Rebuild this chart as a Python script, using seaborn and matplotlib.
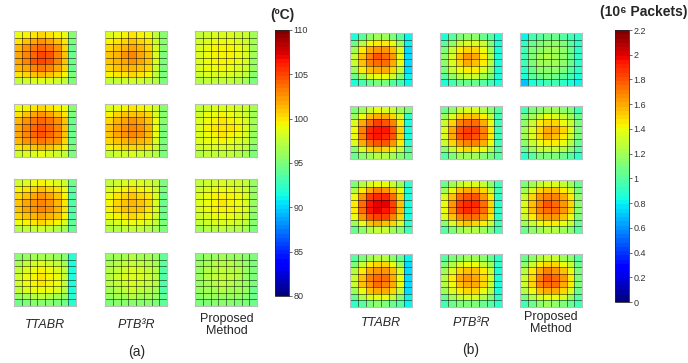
import numpy as np
import matplotlib
matplotlib.use("Agg")
import matplotlib.pyplot as plt
import matplotlib.colors as mcolors
import seaborn as sns

sns.set_theme(style="white")
plt.rcParams["font.family"] = ["Liberation Sans", "DejaVu Sans"]

W, H = 688, 363

# ---- panel (a): temperature (deg C), 8x8 grids, rows top -> bottom ----
a_ttabr_1 = [[99, 99.5, 100, 100.5, 100, 99.5, 99, 95.5],
             [100, 101, 102, 102.5, 102, 101, 100, 95],
             [101.5, 102.5, 103.5, 104, 103.5, 102.5, 100.5, 94.5],
             [102, 103, 104, 105, 104.5, 103, 101, 94.5],
             [102, 103, 104.5, 105, 104.5, 103, 101, 94.5],
             [101.5, 102, 103, 103.5, 103, 102, 100.5, 94.5],
             [100, 100.5, 101, 101.5, 101, 100.5, 99.5, 95],
             [97.5, 98, 98.5, 98.5, 98.5, 98, 97.5, 95]]
a_ptb_1 = [[98.5, 99, 99.5, 100, 99.5, 99, 97.5, 95.5],
           [99.5, 100, 100.5, 101, 100.5, 100, 98, 95.5],
           [100.5, 101, 101.5, 102, 101.5, 100.5, 98.5, 95.5],
           [101, 101.5, 102.5, 103, 102, 101, 98.5, 95],
           [101, 101.5, 102, 102.5, 102, 101, 98.5, 95],
           [100.5, 101, 101.5, 101.5, 101, 100.5, 98, 95],
           [99.5, 100, 100, 100.5, 100, 99.5, 97.5, 95],
           [97.5, 97.5, 98, 98, 98, 97.5, 97, 95]]
a_prop_1 = [[97.5, 98, 98.5, 98.5, 98.5, 98, 98, 96.5],
            [98, 98.5, 99, 99, 99, 98.5, 98, 96.5],
            [98.5, 99, 99.5, 99.5, 99.5, 99, 98.5, 96.5],
            [98.5, 99, 99.5, 99.5, 99.5, 99, 98.5, 96.5],
            [98.5, 99, 99.5, 99.5, 99.5, 99, 98.5, 96],
            [98.5, 99, 99, 99.5, 99, 98.5, 98, 96],
            [98, 98.5, 98.5, 98.5, 98.5, 98, 97.5, 95.5],
            [97, 97.5, 97.5, 97.5, 97.5, 97, 96.5, 95]]

a_ttabr_2 = [[99, 99.5, 100, 100.5, 100, 99.5, 99, 95.5],
             [100, 101, 102, 102.5, 102, 101, 100, 95],
             [101.5, 102.5, 103.5, 104, 103.5, 102.5, 101, 94.5],
             [102, 103, 104, 104.5, 104, 103, 101, 94.5],
             [102, 103, 104, 104.5, 104, 103, 101, 94.5],
             [101.5, 102.5, 103, 103.5, 103, 102.5, 100.5, 94.5],
             [100, 100.5, 101, 101.5, 101, 100.5, 99.5, 95],
             [98, 98.5, 98.5, 99, 98.5, 98, 97.5, 95]]
a_ptb_2 = [[98.5, 99, 99.5, 100, 99.5, 99, 98, 95.5],
           [99.5, 100.5, 101, 101, 101, 100.5, 98.5, 95.5],
           [100.5, 101.5, 102, 102.5, 102, 101, 99, 95.5],
           [101, 102, 102.5, 103, 102.5, 101.5, 99, 95],
           [101, 102, 102.5, 103, 102.5, 101.5, 99, 95],
           [100.5, 101, 101.5, 102, 101.5, 101, 98.5, 95],
           [99.5, 100, 100.5, 100.5, 100.5, 100, 98, 95],
           [97.5, 98, 98, 98.5, 98, 97.5, 97, 95]]
a_prop_2 = [[97.5, 98, 98.5, 98.5, 98.5, 98, 98, 96.5],
            [98, 99, 99, 99.5, 99, 98.5, 98, 96.5],
            [98.5, 99, 99.5, 100, 99.5, 99, 98.5, 96.5],
            [98.5, 99.5, 100, 100, 100, 99.5, 98.5, 96.5],
            [98.5, 99, 99.5, 100, 99.5, 99, 98.5, 96],
            [98.5, 99, 99, 99.5, 99, 98.5, 98, 96],
            [98, 98.5, 98.5, 98.5, 98.5, 98, 97.5, 95.5],
            [97, 97.5, 97.5, 97.5, 97.5, 97, 96.5, 95]]

a_ttabr_3 = [[98, 98.5, 99, 99.5, 99, 98.5, 98, 94.5],
             [99.5, 100, 100.5, 101, 100.5, 100, 99, 94],
             [100.5, 101, 102, 102.5, 102, 101, 99.5, 93.5],
             [101, 102, 102.5, 103, 102.5, 101.5, 100, 93.5],
             [101, 102, 102.5, 103, 102.5, 101.5, 100, 93.5],
             [100.5, 101, 101.5, 102, 101.5, 101, 99.5, 93.5],
             [99, 99.5, 100, 100.5, 100, 99.5, 98.5, 94],
             [97, 97.5, 97.5, 98, 97.5, 97, 96.5, 94]]
a_ptb_3 = [[97.5, 98, 98.5, 98.5, 98.5, 98, 97.5, 95],
           [98.5, 99, 99.5, 100, 99.5, 99, 98, 95],
           [99, 100, 100.5, 101, 100.5, 100, 98.5, 94.5],
           [99.5, 100.5, 101, 101.5, 101, 100.5, 98.5, 94.5],
           [99.5, 100.5, 101, 101, 101, 100, 98.5, 94.5],
           [99, 99.5, 100, 100.5, 100, 99.5, 98, 94.5],
           [98, 98.5, 99, 99, 99, 98.5, 97.5, 95],
           [97, 97, 97.5, 97.5, 97.5, 97, 96.5, 95]]
a_prop_3 = [[97.5, 98, 98, 98.5, 98, 98, 97.5, 96],
            [98, 98.5, 99, 99, 99, 98.5, 98, 96],
            [98.5, 99, 99.5, 99.5, 99.5, 99, 98.5, 96],
            [98.5, 99, 99.5, 100, 99.5, 99, 98.5, 96],
            [98.5, 99, 99.5, 99.5, 99.5, 99, 98.5, 96],
            [98, 98.5, 99, 99, 99, 98.5, 98, 95.5],
            [97.5, 98, 98.5, 98.5, 98.5, 98, 97.5, 95.5],
            [96.5, 97, 97, 97.5, 97, 97, 96.5, 95]]

a_ttabr_4 = [[95.5, 96, 96.5, 96.5, 96.5, 96, 95.5, 92],
             [96.5, 97.5, 98, 98.5, 98, 97.5, 96.5, 91.5],
             [97.5, 98.5, 99, 99.5, 99, 98.5, 97.5, 91.5],
             [98, 99, 99.5, 100, 99.5, 99, 97.5, 91.5],
             [98, 99, 99.5, 100, 99.5, 99, 97.5, 91.5],
             [97.5, 98.5, 99, 99, 99, 98.5, 97, 91.5],
             [96, 96.5, 97, 97.5, 97, 96.5, 96, 92],
             [94.5, 95, 95.5, 95.5, 95.5, 95, 94.5, 92]]
a_ptb_4 = [[96, 96.5, 96.5, 97, 96.5, 96.5, 96, 94],
           [96.5, 97, 97.5, 97.5, 97.5, 97, 96.5, 94],
           [97, 97.5, 98, 98.5, 98, 97.5, 97, 93.5],
           [97, 98, 98.5, 98.5, 98.5, 98, 97, 93.5],
           [97, 97.5, 98, 98.5, 98, 97.5, 97, 93.5],
           [96.5, 97, 97.5, 98, 97.5, 97, 96.5, 93.5],
           [96, 96.5, 96.5, 97, 96.5, 96.5, 96, 94],
           [95, 95.5, 95.5, 95.5, 95.5, 95.5, 95, 94]]
a_prop_4 = [[95.5, 96, 96, 96.5, 96, 96, 95.5, 95],
            [96, 96.5, 97, 97, 97, 96.5, 96, 95],
            [96, 97, 97, 97.5, 97, 97, 96, 95],
            [96, 97, 97.5, 97.5, 97.5, 97, 96, 95],
            [96, 96.5, 97, 97.5, 97, 96.5, 96, 95],
            [96, 96.5, 96.5, 97, 96.5, 96.5, 96, 94.5],
            [95.5, 96, 96, 96, 96, 96, 95.5, 94.5],
            [95, 95, 95.5, 95.5, 95.5, 95, 95, 94.5]]

# ---- panel (b): traffic (10^6 packets) ----
b_ttabr_1 = [[0.85, 1.0, 1.15, 1.2, 1.2, 1.1, 1.0, 0.8],
             [1.05, 1.25, 1.4, 1.45, 1.45, 1.4, 1.2, 0.8],
             [1.2, 1.45, 1.6, 1.65, 1.65, 1.55, 1.35, 0.75],
             [1.3, 1.55, 1.7, 1.8, 1.75, 1.65, 1.4, 0.75],
             [1.3, 1.55, 1.7, 1.75, 1.75, 1.6, 1.4, 0.75],
             [1.2, 1.45, 1.55, 1.6, 1.6, 1.5, 1.3, 0.75],
             [1.05, 1.2, 1.35, 1.4, 1.4, 1.3, 1.15, 0.8],
             [0.85, 0.95, 1.05, 1.1, 1.1, 1.0, 0.95, 0.8]]
b_ptb_1 = [[0.85, 1.0, 1.1, 1.15, 1.15, 1.05, 1.0, 0.85],
           [1.0, 1.15, 1.3, 1.35, 1.35, 1.3, 1.1, 0.85],
           [1.1, 1.3, 1.45, 1.5, 1.5, 1.4, 1.2, 0.85],
           [1.15, 1.35, 1.55, 1.65, 1.6, 1.45, 1.25, 0.85],
           [1.15, 1.35, 1.5, 1.6, 1.55, 1.45, 1.25, 0.85],
           [1.1, 1.3, 1.4, 1.45, 1.45, 1.35, 1.2, 0.85],
           [1.0, 1.15, 1.25, 1.3, 1.3, 1.2, 1.1, 0.85],
           [0.85, 0.95, 1.05, 1.05, 1.05, 1.0, 0.95, 0.85]]
b_prop_1 = [[0.8, 0.95, 1.0, 1.05, 1.05, 1.0, 0.95, 0.9],
            [0.9, 1.05, 1.1, 1.15, 1.15, 1.1, 1.0, 0.9],
            [0.95, 1.1, 1.15, 1.2, 1.2, 1.15, 1.05, 0.9],
            [0.95, 1.1, 1.2, 1.25, 1.2, 1.15, 1.05, 0.9],
            [0.95, 1.1, 1.2, 1.2, 1.2, 1.15, 1.05, 0.9],
            [0.9, 1.05, 1.15, 1.15, 1.15, 1.1, 1.0, 0.9],
            [0.85, 1.0, 1.05, 1.1, 1.05, 1.0, 0.95, 0.85],
            [0.7, 0.85, 0.9, 0.95, 0.95, 0.9, 0.85, 0.8]]

b_ttabr_2 = [[1.1, 1.2, 1.3, 1.4, 1.35, 1.3, 1.2, 1.1],
             [1.2, 1.4, 1.55, 1.6, 1.6, 1.5, 1.35, 0.9],
             [1.35, 1.6, 1.75, 1.85, 1.8, 1.7, 1.45, 0.85],
             [1.4, 1.7, 1.9, 1.95, 1.95, 1.8, 1.5, 0.85],
             [1.4, 1.7, 1.9, 1.95, 1.9, 1.8, 1.5, 0.85],
             [1.35, 1.6, 1.75, 1.8, 1.8, 1.65, 1.45, 0.9],
             [1.15, 1.35, 1.5, 1.55, 1.5, 1.45, 1.3, 1.0],
             [1.05, 1.15, 1.2, 1.25, 1.25, 1.2, 1.15, 1.05]]
b_ptb_2 = [[1.05, 1.15, 1.3, 1.35, 1.35, 1.25, 1.15, 1.0],
           [1.2, 1.35, 1.5, 1.55, 1.55, 1.45, 1.3, 0.95],
           [1.3, 1.5, 1.7, 1.75, 1.75, 1.6, 1.4, 0.95],
           [1.35, 1.6, 1.8, 1.85, 1.85, 1.7, 1.45, 0.95],
           [1.35, 1.6, 1.8, 1.85, 1.8, 1.7, 1.45, 0.95],
           [1.3, 1.5, 1.65, 1.7, 1.7, 1.6, 1.4, 0.95],
           [1.15, 1.3, 1.45, 1.5, 1.45, 1.4, 1.25, 1.0],
           [1.0, 1.1, 1.2, 1.2, 1.2, 1.15, 1.1, 1.0]]
b_prop_2 = [[0.95, 1.1, 1.15, 1.2, 1.2, 1.15, 1.1, 0.95],
            [1.1, 1.2, 1.3, 1.4, 1.35, 1.3, 1.2, 1.05],
            [1.15, 1.3, 1.45, 1.5, 1.5, 1.4, 1.3, 1.1],
            [1.2, 1.35, 1.5, 1.6, 1.6, 1.5, 1.35, 1.1],
            [1.2, 1.35, 1.5, 1.6, 1.55, 1.45, 1.3, 1.1],
            [1.15, 1.3, 1.4, 1.45, 1.45, 1.4, 1.25, 1.05],
            [1.05, 1.2, 1.3, 1.3, 1.3, 1.25, 1.15, 1.0],
            [0.9, 1.0, 1.1, 1.1, 1.1, 1.05, 1.0, 0.9]]

b_ttabr_3 = [[1.1, 1.25, 1.35, 1.4, 1.4, 1.3, 1.2, 0.9],
             [1.25, 1.45, 1.6, 1.7, 1.65, 1.55, 1.4, 0.85],
             [1.4, 1.65, 1.85, 1.9, 1.9, 1.75, 1.5, 0.85],
             [1.45, 1.75, 1.95, 2.0, 2.0, 1.85, 1.55, 0.85],
             [1.45, 1.75, 1.95, 2.0, 1.95, 1.85, 1.55, 0.85],
             [1.4, 1.65, 1.8, 1.85, 1.85, 1.7, 1.5, 0.85],
             [1.2, 1.4, 1.55, 1.6, 1.55, 1.5, 1.35, 0.9],
             [1.05, 1.15, 1.25, 1.3, 1.3, 1.2, 1.15, 0.95]]
b_ptb_3 = [[1.05, 1.2, 1.3, 1.35, 1.35, 1.3, 1.15, 0.95],
           [1.2, 1.4, 1.55, 1.6, 1.6, 1.5, 1.3, 0.95],
           [1.35, 1.55, 1.75, 1.8, 1.8, 1.65, 1.45, 0.9],
           [1.4, 1.65, 1.85, 1.9, 1.9, 1.75, 1.5, 0.9],
           [1.4, 1.65, 1.85, 1.9, 1.85, 1.75, 1.5, 0.9],
           [1.35, 1.55, 1.7, 1.75, 1.75, 1.65, 1.45, 0.9],
           [1.15, 1.35, 1.5, 1.55, 1.5, 1.45, 1.3, 0.95],
           [1.0, 1.1, 1.2, 1.25, 1.25, 1.2, 1.1, 0.95]]
b_prop_3 = [[1.1, 1.2, 1.3, 1.35, 1.35, 1.3, 1.2, 1.05],
            [1.2, 1.35, 1.5, 1.55, 1.55, 1.45, 1.35, 1.1],
            [1.3, 1.5, 1.65, 1.7, 1.7, 1.6, 1.45, 1.15],
            [1.35, 1.55, 1.7, 1.8, 1.75, 1.65, 1.5, 1.15],
            [1.35, 1.55, 1.7, 1.75, 1.75, 1.65, 1.5, 1.15],
            [1.3, 1.45, 1.6, 1.65, 1.65, 1.55, 1.4, 1.1],
            [1.2, 1.3, 1.4, 1.45, 1.45, 1.4, 1.3, 1.05],
            [1.05, 1.15, 1.2, 1.25, 1.25, 1.2, 1.15, 1.0]]

b_ttabr_4 = [[1.0, 1.1, 1.2, 1.25, 1.25, 1.15, 1.05, 0.8],
             [1.1, 1.3, 1.45, 1.5, 1.5, 1.4, 1.2, 0.75],
             [1.25, 1.45, 1.6, 1.65, 1.65, 1.55, 1.35, 0.75],
             [1.3, 1.55, 1.7, 1.75, 1.75, 1.6, 1.4, 0.75],
             [1.3, 1.55, 1.65, 1.75, 1.7, 1.6, 1.4, 0.75],
             [1.2, 1.4, 1.55, 1.6, 1.6, 1.5, 1.3, 0.75],
             [1.05, 1.25, 1.35, 1.4, 1.4, 1.3, 1.15, 0.8],
             [0.9, 1.0, 1.1, 1.15, 1.1, 1.05, 1.0, 0.8]]
b_ptb_4 = [[1.0, 1.1, 1.15, 1.2, 1.2, 1.15, 1.05, 0.9],
           [1.1, 1.25, 1.35, 1.4, 1.4, 1.3, 1.2, 0.9],
           [1.2, 1.35, 1.5, 1.55, 1.55, 1.45, 1.3, 0.85],
           [1.25, 1.45, 1.6, 1.65, 1.6, 1.5, 1.35, 0.85],
           [1.25, 1.4, 1.55, 1.6, 1.6, 1.5, 1.3, 0.85],
           [1.2, 1.35, 1.45, 1.5, 1.5, 1.4, 1.25, 0.85],
           [1.05, 1.2, 1.3, 1.35, 1.35, 1.25, 1.15, 0.9],
           [0.95, 1.05, 1.1, 1.1, 1.1, 1.05, 1.0, 0.9]]
b_prop_4 = [[1.05, 1.15, 1.25, 1.3, 1.3, 1.2, 1.15, 1.0],
            [1.15, 1.3, 1.45, 1.5, 1.5, 1.4, 1.3, 1.05],
            [1.25, 1.45, 1.6, 1.7, 1.65, 1.55, 1.4, 1.1],
            [1.3, 1.5, 1.7, 1.8, 1.75, 1.65, 1.45, 1.1],
            [1.3, 1.5, 1.7, 1.75, 1.75, 1.6, 1.45, 1.1],
            [1.25, 1.4, 1.55, 1.6, 1.6, 1.5, 1.35, 1.05],
            [1.1, 1.25, 1.35, 1.4, 1.4, 1.35, 1.2, 1.0],
            [0.95, 1.05, 1.15, 1.2, 1.15, 1.1, 1.05, 0.95]]

method_labels = ["TTABR", "PTB\u00b3R", "Proposed\nMethod"]
panel_labels = ["(a)", "(b)"]
a_ticks = [80, 85, 90, 95, 100, 105, 110]
b_ticks = [0, 0.2, 0.4, 0.6, 0.8, 1, 1.2, 1.4, 1.6, 1.8, 2, 2.2]

panel_a = [[a_ttabr_1, a_ptb_1, a_prop_1],
           [a_ttabr_2, a_ptb_2, a_prop_2],
           [a_ttabr_3, a_ptb_3, a_prop_3],
           [a_ttabr_4, a_ptb_4, a_prop_4]]
panel_b = [[b_ttabr_1, b_ptb_1, b_prop_1],
           [b_ttabr_2, b_ptb_2, b_prop_2],
           [b_ttabr_3, b_ptb_3, b_prop_3],
           [b_ttabr_4, b_ptb_4, b_prop_4]]


def box(x, y, w, h):
    # pixel box (top-left origin) -> figure fraction
    return [x / W, 1 - (y + h) / H, w / W, h / H]


fig = plt.figure(figsize=(W / 100, H / 100), dpi=100)

panels = [
    dict(grids=panel_a, vmin=80, vmax=110, ticks=a_ticks,
         cols=[14, 105, 195], rows=[31, 104, 179, 253], cbar=(275, 30, 14, 266)),
    dict(grids=panel_b, vmin=0, vmax=2.2, ticks=b_ticks,
         cols=[350, 440, 520], rows=[33, 106, 180, 254], cbar=(615, 30, 14, 272)),
]

for p in panels:
    for r, row_grids in enumerate(p["grids"]):
        for c, grid in enumerate(row_grids):
            data = np.array(grid)
            ax = fig.add_axes(box(p["cols"][c], p["rows"][r], 62, 53))
            sns.heatmap(data, ax=ax, cmap="jet", vmin=p["vmin"], vmax=p["vmax"],
                        cbar=False, linewidths=0, xticklabels=False, yticklabels=False)
            nr, nc = data.shape
            ax.hlines(np.arange(1, nr), 0, nc, colors="black", alpha=0.5, linewidth=0.7)
            ax.vlines(np.arange(1, nc), 0, nr, colors="black", alpha=0.5, linewidth=0.7)
            for s in ax.spines.values():
                s.set_visible(True)
                s.set_color("#bdbdbd")
                s.set_linewidth(0.8)

    cax = fig.add_axes(box(*p["cbar"]))
    sm = plt.cm.ScalarMappable(norm=mcolors.Normalize(p["vmin"], p["vmax"]),
                               cmap=plt.get_cmap("jet", 64))
    cb = fig.colorbar(sm, cax=cax, ticks=p["ticks"])
    cb.outline.set_linewidth(0.6)
    cb.ax.tick_params(labelsize=6.5, length=2, width=0.5, pad=1, colors="#333333")
    cb.ax.set_yticklabels([f"{t:g}" for t in p["ticks"]])

# colorbar titles
fig.text(282 / W, 1 - 15 / H, "(\u00baC)", ha="center", va="center",
         fontsize=10, fontweight="bold")
fig.text(644 / W, 1 - 12 / H, "(10\u2076 Packets)", ha="center", va="center",
         fontsize=10, fontweight="bold")

# method labels under each column
for cols, y0 in [([45, 136, 227], 325), ([381, 471, 551], 323)]:
    for x, lab in zip(cols, method_labels):
        style = "normal" if lab.startswith("Proposed") else "italic"
        fig.text(x / W, 1 - y0 / H, lab, ha="center", va="center",
                 fontsize=9, fontstyle=style, linespacing=1.1)

fig.text(137 / W, 1 - 352 / H, panel_labels[0], ha="center", va="center", fontsize=10)
fig.text(471 / W, 1 - 350 / H, panel_labels[1], ha="center", va="center", fontsize=10)

fig.savefig("out.png", dpi=100)
